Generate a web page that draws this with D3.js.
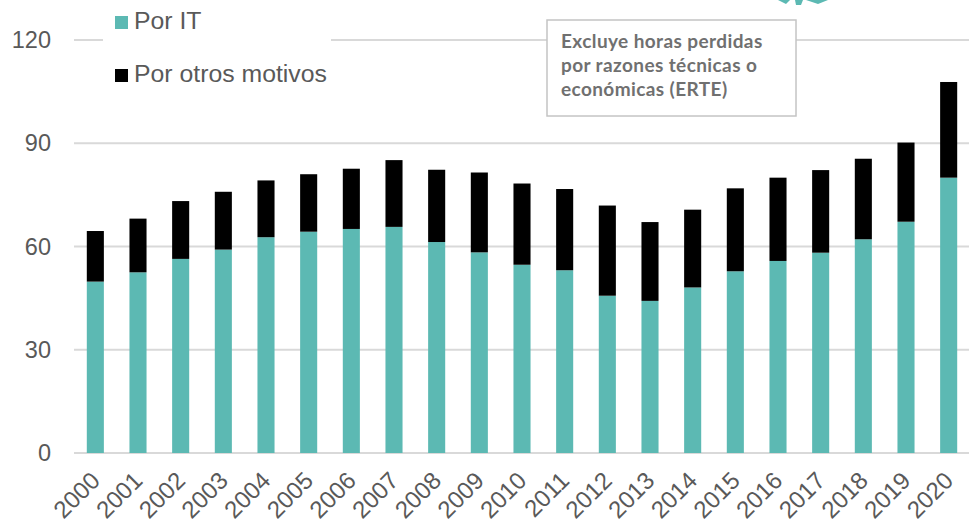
<!DOCTYPE html>
<html>
<head>
<meta charset="utf-8">
<script src="https://cdn.jsdelivr.net/npm/d3@7"></script>
<style>
  body { margin: 0; background: #fff; }
  svg { display: block; }
</style>
</head>
<body>
<svg id="chart"></svg>
<script>
// Data
const years = ["2000","2001","2002","2003","2004","2005","2006","2007","2008","2009","2010",
               "2011","2012","2013","2014","2015","2016","2017","2018","2019","2020"];
const porIT = [49.8, 52.5, 56.4, 59.1, 62.7, 64.3, 65.1, 65.7, 61.3, 58.3, 54.7,
               53.1, 45.7, 44.2, 48.1, 52.8, 55.8, 58.2, 62.1, 67.2, 80.0];
const porOtros = [14.7, 15.6, 16.8, 16.8, 16.5, 16.7, 17.5, 19.4, 21.0, 23.2, 23.6,
                  23.6, 26.2, 22.9, 22.6, 24.1, 24.2, 24.0, 23.4, 23.0, 27.8];
const yTicks = [0, 30, 60, 90, 120];
const seriesNames = ["Por IT", "Por otros motivos"];
const noteLines = ["Excluye horas perdidas", "por razones técnicas o", "económicas (ERTE)"];

const W = 976, H = 524;
const teal = "#5cb9b3";
const labelFont = "Arial, 'Liberation Sans', sans-serif";

const svg = d3.select("#chart")
    .attr("width", W)
    .attr("height", H);

// scales
const x = d3.scaleBand()
    .domain(years)
    .range([74, 970])
    .paddingInner(0.6)
    .paddingOuter(0.3);

const y = d3.scaleLinear()
    .domain([0, 120])
    .range([453, 40]);

// y labels
const yAxis = svg.append("g")
    .attr("transform", "translate(74,0)")
    .call(d3.axisLeft(y).tickValues(yTicks).tickSize(0).tickPadding(23));
yAxis.select(".domain").remove();
yAxis.selectAll("text")
    .attr("fill", "#595959")
    .style("font-family", labelFont)
    .style("font-size", "23.5px");

// gridlines
svg.append("g")
    .selectAll("line")
    .data(yTicks)
    .join("line")
    .attr("x1", 74)
    .attr("x2", 969)
    .attr("y1", d => y(d))
    .attr("y2", d => y(d))
    .attr("stroke", "#d9d9d9")
    .attr("stroke-width", 2);

// stacked bars
const rows = years.map((yr, i) => ({ year: yr, it: porIT[i], otros: porOtros[i] }));
const stack = d3.stack().keys(["it", "otros"])(rows);
const colors = [teal, "#000000"];

svg.append("g")
    .selectAll("g")
    .data(stack)
    .join("g")
    .attr("fill", (d, i) => colors[i])
    .selectAll("rect")
    .data(d => d)
    .join("rect")
    .attr("x", d => x(d.data.year))
    .attr("y", d => y(d[1]))
    .attr("width", x.bandwidth())
    .attr("height", d => y(d[0]) - y(d[1]));

// x axis labels (rotated)
const xAxis = svg.append("g")
    .attr("transform", `translate(0,${y(0)})`)
    .call(d3.axisBottom(x).tickSize(0).tickPadding(0));
xAxis.select(".domain").remove();
xAxis.selectAll("text")
    .attr("fill", "#595959")
    .style("font-family", labelFont)
    .style("font-size", "24px")
    .attr("text-anchor", "end")
    .attr("dy", null)
    .attr("y", 0)
    .attr("transform", "translate(6,29) rotate(-45)");

// legend, white background over the gridline
svg.append("rect")
    .attr("x", 103).attr("y", 0)
    .attr("width", 228).attr("height", 95)
    .attr("fill", "#fff");

const legend = svg.append("g")
    .selectAll("g")
    .data(seriesNames)
    .join("g")
    .attr("transform", (d, i) => `translate(115,${29 + i * 53})`);
legend.append("rect")
    .attr("x", 0).attr("y", -13)
    .attr("width", 13).attr("height", 13)
    .attr("fill", (d, i) => colors[i]);
legend.append("text")
    .attr("x", 19).attr("y", 0)
    .attr("fill", "#595959")
    .style("font-family", labelFont)
    .style("font-size", "24.8px")
    .text(d => d);

// note box
svg.append("rect")
    .attr("x", 547).attr("y", 20)
    .attr("width", 249).attr("height", 96)
    .attr("fill", "#fff")
    .attr("stroke", "#c4c4c4")
    .attr("stroke-width", 1.5);
svg.append("g")
    .selectAll("text")
    .data(noteLines)
    .join("text")
    .attr("x", 561)
    .attr("y", (d, i) => 48 + i * 24)
    .attr("fill", "#707070")
    .style("font-family", "Lato, 'Open Sans', sans-serif")
    .style("font-weight", "bold")
    .style("font-size", "19px")
    .style("letter-spacing", "0.4px")
    .text(d => d);

// cropped logo fragment at the top edge
svg.append("path")
    .attr("d", "M778,0 L790,0 L786,4 Z M795,0 L803,0 L801,5 L796,5 Z M806,0 L828,0 L818,4 Z")
    .attr("fill", teal);
</script>
</body>
</html>
